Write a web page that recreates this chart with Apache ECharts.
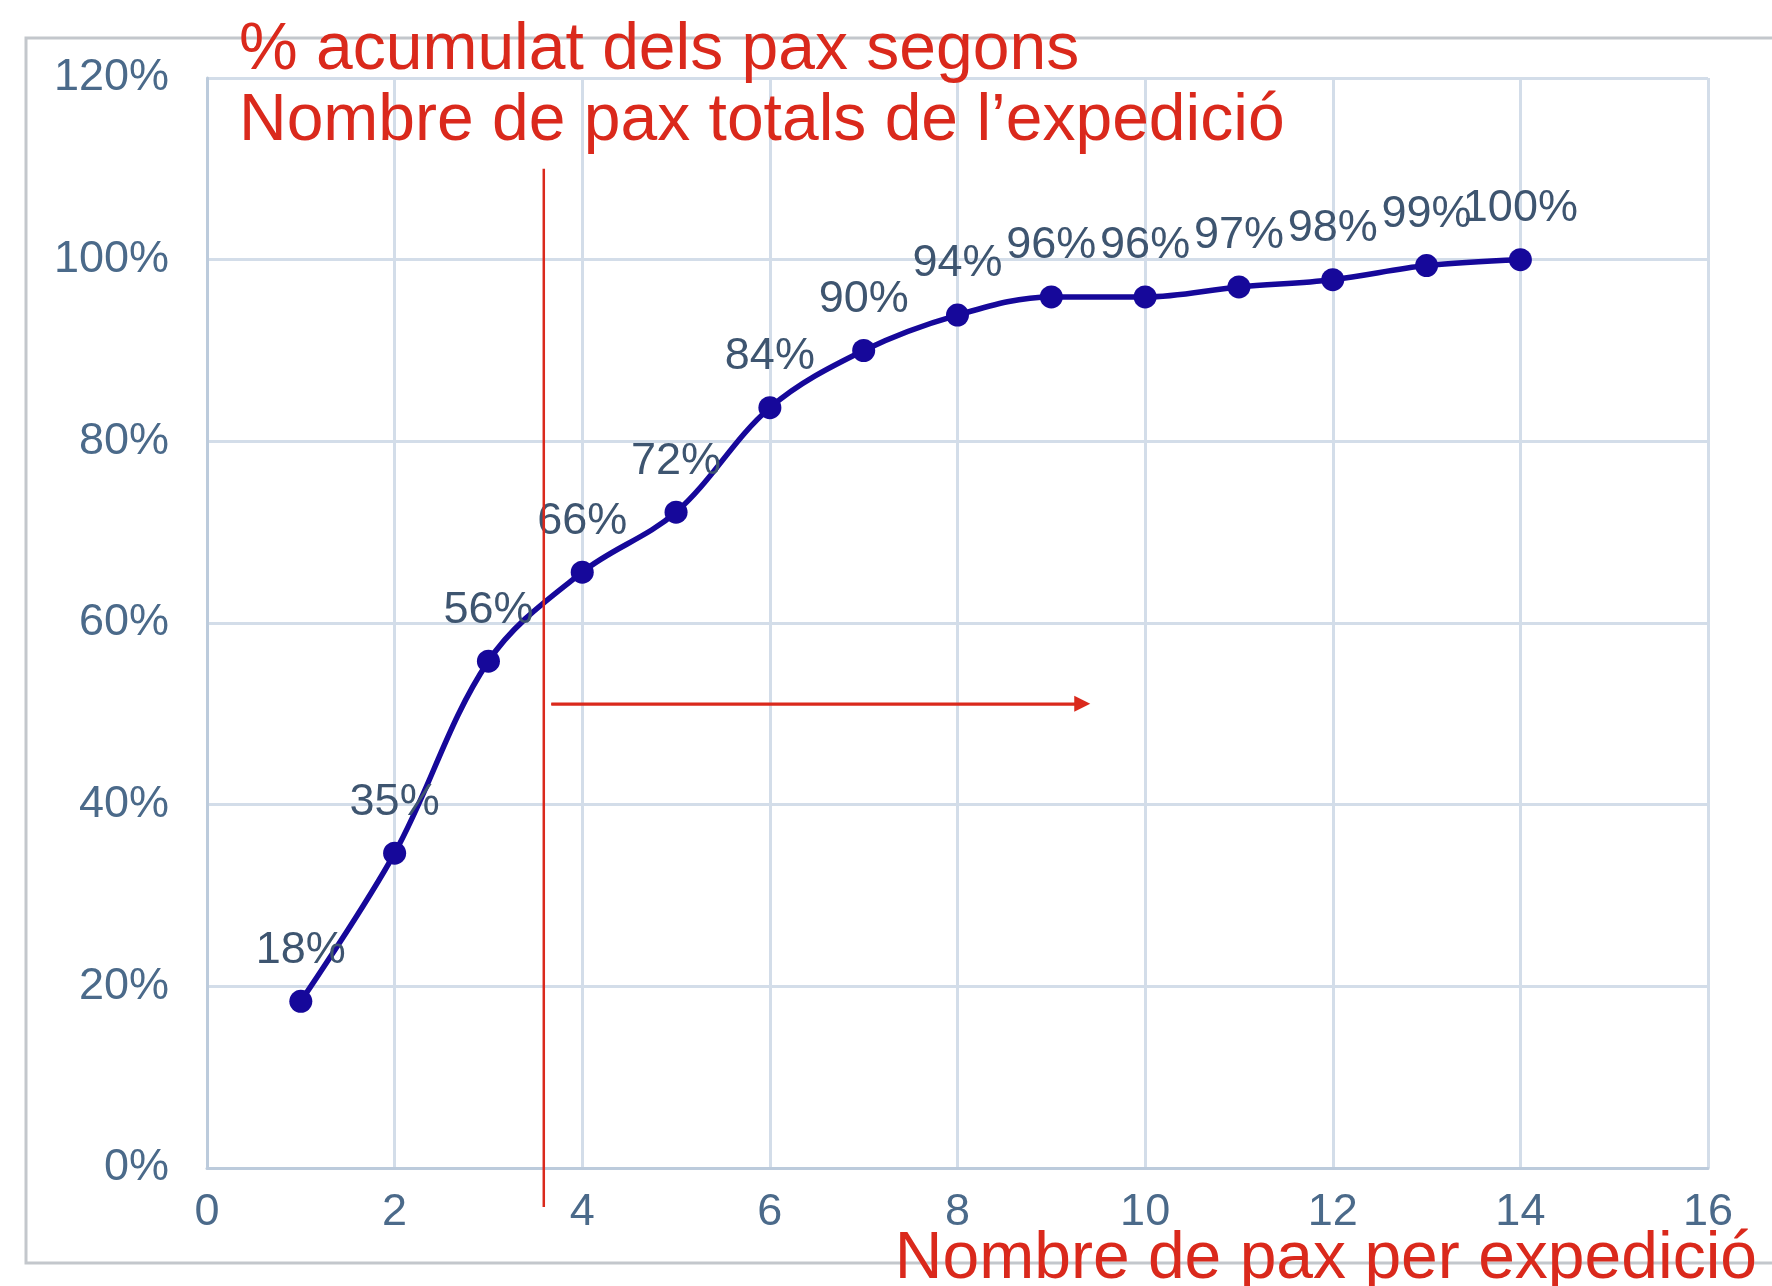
<!DOCTYPE html>
<html>
<head>
<meta charset="utf-8">
<script src="https://cdn.jsdelivr.net/npm/echarts@6/dist/echarts.min.js"></script>
<style>
html,body{margin:0;padding:0;background:#fff;}
#c{width:1772px;height:1286px;}
</style>
</head>
<body>
<div id="c"></div>
<script>
const paxCounts = [1, 2, 3, 4, 5, 6, 7, 8, 9, 10, 11, 12, 13, 14];
const cumulativePct = [18.35, 34.66, 55.8, 65.6, 72.2, 83.7, 90.0, 93.9, 95.9, 95.9, 97.0, 97.8, 99.35, 100];
const yTicks = { min: 0, max: 120, interval: 20 };
const xTicks = { min: 0, max: 16, interval: 2 };
const titleLines = ['% acumulat dels pax segons', 'Nombre de pax totals de l’expedició'];
const xTitle = 'Nombre de pax per expedició';
const cutLine = [[3.59, -4.3], [3.59, 110]];
const arrow = [[3.67, 51.1], [9.33, 51.1]];

const RED = '#da291c';
const chart = echarts.init(document.getElementById('c'));
const font = '"Liberation Sans", Arial, Helvetica, sans-serif';

chart.setOption({
  animation: false,
  backgroundColor: '#fff',
  textStyle: { fontFamily: font },
  graphic: [{
    type: 'rect', z: -10, silent: true,
    shape: { x: 26, y: 38, width: 1800, height: 1225 },
    style: { fill: 'none', stroke: '#c3c7cc', lineWidth: 3 }
  }],
  title: [{
    text: titleLines.join('\n'),
    left: 234, top: 10,
    textStyle: { fontFamily: font, fontSize: 66, fontWeight: 'normal', color: RED, lineHeight: 71 }
  }, {
    text: xTitle,
    right: 10, top: 1219,
    textStyle: { fontFamily: font, fontSize: 66, fontWeight: 'normal', color: RED, lineHeight: 71 }
  }],
  grid: { left: 207, right: 64, top: 78, bottom: 118, containLabel: false },
  xAxis: {
    type: 'value', min: xTicks.min, max: xTicks.max, interval: xTicks.interval,
    axisLine: { show: true, lineStyle: { color: '#bccbdc', width: 3 } },
    axisTick: { show: false },
    axisLabel: { fontSize: 45, color: '#4b6a8a', margin: 22, fontFamily: font },
    splitLine: { show: true, lineStyle: { color: '#d3dde9', width: 3 } }
  },
  yAxis: {
    type: 'value', min: yTicks.min, max: yTicks.max, interval: yTicks.interval,
    axisLine: { show: true, lineStyle: { color: '#bccbdc', width: 3 } },
    axisTick: { show: false },
    axisLabel: { fontSize: 45, color: '#4b6a8a', margin: 38, formatter: '{value}%', fontFamily: font },
    splitLine: { show: true, lineStyle: { color: '#d3dde9', width: 3 } }
  },
  series: [{
    type: 'line',
    data: paxCounts.map((x, i) => [x, cumulativePct[i]]),
    smooth: 0.35,
    symbol: 'circle', symbolSize: 23,
    lineStyle: { color: '#16089a', width: 5.5 },
    itemStyle: { color: '#16089a' },
    label: {
      show: true, position: 'top', distance: 17,
      fontSize: 45, color: '#3e5570', fontFamily: font,
      formatter: p => Math.round(p.value[1]) + '%'
    },
    z: 5
  }, {
    type: 'line',
    data: cutLine,
    clip: false, silent: true,
    symbol: 'none',
    lineStyle: { color: RED, width: 2.5 },
    z: 6
  }, {
    type: 'line',
    data: arrow,
    clip: false, silent: true,
    symbol: 'none',
    lineStyle: { color: RED, width: 2.5 },
    markLine: {
      silent: true,
      symbol: ['none', 'triangle'],
      symbolSize: [16, 16],
      label: { show: false },
      lineStyle: { color: RED, width: 2.5, type: 'solid' },
      data: [[{ coord: arrow[0] }, { coord: arrow[1] }]]
    },
    z: 6
  }]
});
</script>
</body>
</html>
